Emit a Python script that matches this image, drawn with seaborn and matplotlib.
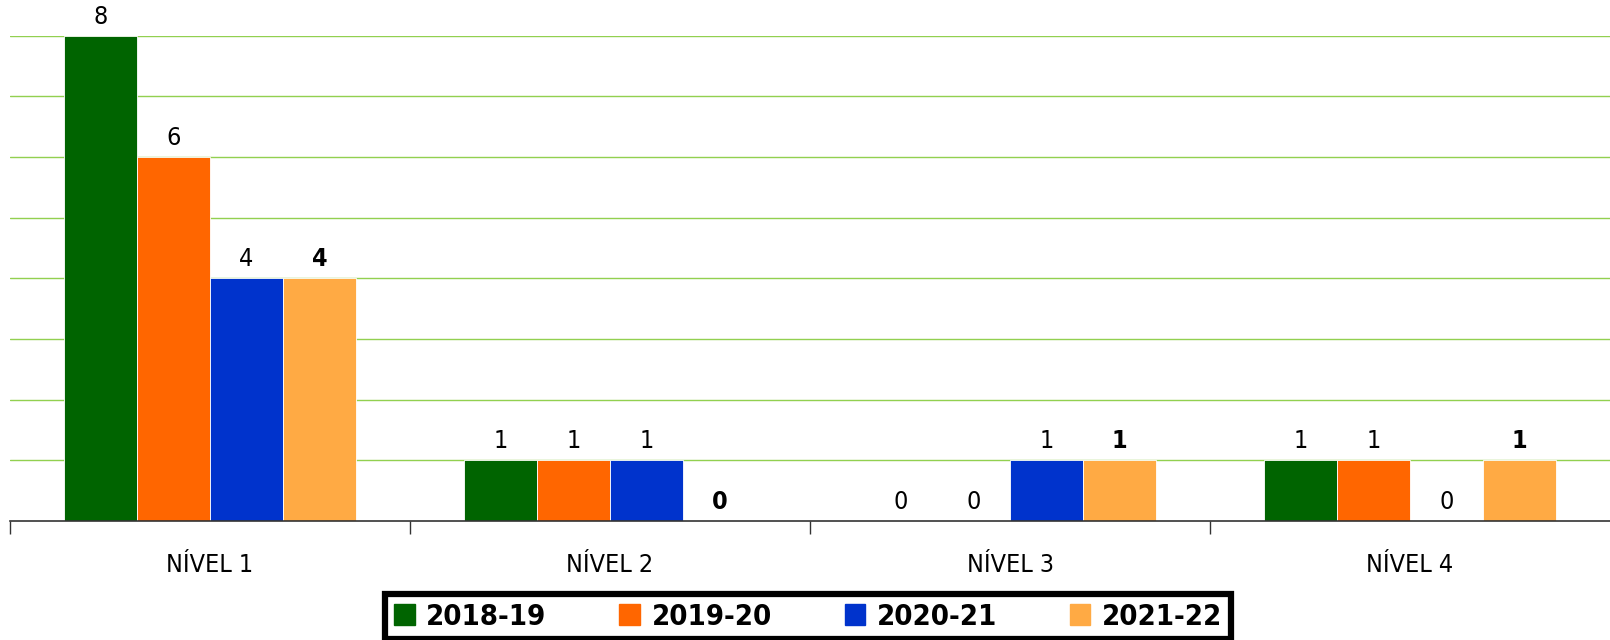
import numpy as np
import pandas as pd
import matplotlib
matplotlib.use("Agg")
import matplotlib.pyplot as plt
import seaborn as sns

niveles = ["NÍVEL 1", "NÍVEL 2", "NÍVEL 3", "NÍVEL 4"]
anos = ["2018-19", "2019-20", "2020-21", "2021-22"]
v_2018 = [8, 1, 0, 1]
v_2019 = [6, 1, 0, 1]
v_2020 = [4, 1, 1, 0]
v_2021 = [4, 0, 1, 1]
colores = ["#006400", "#FF6600", "#0033CC", "#FFAA44"]

data = pd.DataFrame({
    "nivel": niveles * 4,
    "ano": np.repeat(anos, 4),
    "valor": v_2018 + v_2019 + v_2020 + v_2021,
})

sns.set_style("white")
plt.rcParams["font.family"] = ["DejaVu Sans"]
plt.rcParams["font.stretch"] = "condensed"
plt.rcParams["text.color"] = "black"
plt.rcParams["xtick.color"] = "black"

fig = plt.figure(figsize=(16.1, 6.4), dpi=100)
ax = fig.add_axes([10 / 1610, 0.186, 1 - 10 / 1610, 0.758])

sns.barplot(data=data, x="nivel", y="valor", hue="ano", palette=colores,
            width=0.73, saturation=1, edgecolor="white", linewidth=0.6,
            legend=True, ax=ax)

ax.set_ylim(0, 8)
ax.set_xlim(-0.5, 3.5)
ax.set_yticks(range(1, 9))
ax.set_yticklabels([])
ax.tick_params(axis="y", length=0)
ax.grid(axis="y", color="#92D050", linewidth=1)
ax.set_axisbelow(True)
for s in ["left", "right", "top"]:
    ax.spines[s].set_visible(False)
ax.spines["bottom"].set_color("#333333")
ax.spines["bottom"].set_linewidth(1.2)

ax.set_xticks([-0.5, 0.5, 1.5, 2.5], minor=True)
ax.tick_params(axis="x", which="minor", bottom=True, length=9, width=1,
               color="#333333", direction="out")
ax.tick_params(axis="x", which="major", length=0, labelsize=18, pad=23,
               labelcolor="black")
ax.set_xlabel("")
ax.set_ylabel("")

for i, cont in enumerate(ax.containers):
    peso = "bold" if i == 3 else "medium"
    ax.bar_label(cont, fmt="%d", padding=5, fontsize=18, fontweight=peso,
                 color="black", clip_on=False)

ax.get_legend().remove()
handles = [plt.Rectangle((0, 0), 1, 1, color=c) for c in colores]
leg = fig.legend(handles, anos, loc="upper center", bbox_to_anchor=(0.502, 0.095),
                 ncol=4, prop={"weight": "bold", "size": 21, "stretch": "condensed"},
                 handlelength=0.7, handleheight=0.7, handletextpad=0.4,
                 columnspacing=2.5, borderpad=0.3, fancybox=False, frameon=True,
                 framealpha=1)
leg.get_frame().set_edgecolor("black")
leg.get_frame().set_linewidth(4.5)

fig.savefig("out.png", dpi=100)
